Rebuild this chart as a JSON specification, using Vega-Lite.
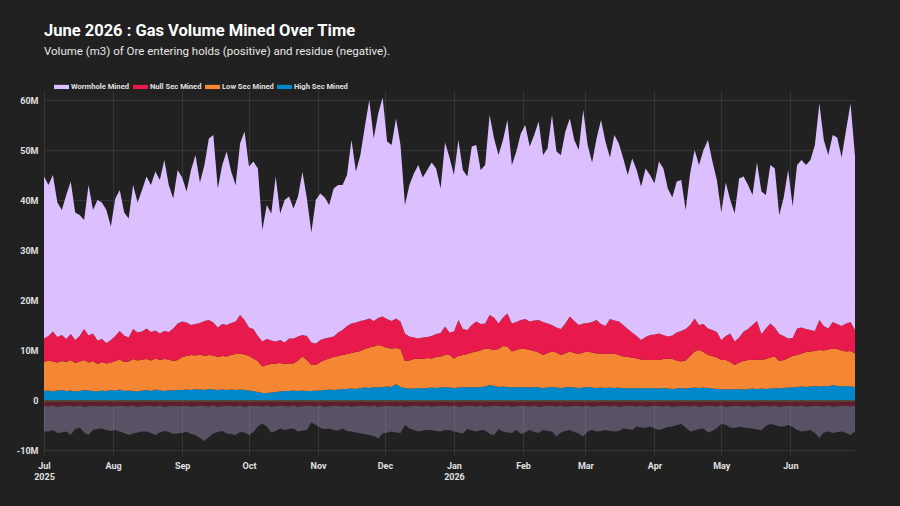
{
  "$schema": "https://vega.github.io/schema/vega-lite/v6.json",
  "width": 811,
  "height": 365,
  "autosize": "none",
  "padding": {"left": 44, "top": 90, "right": 45, "bottom": 51},
  "background": "#212121",
  "title": {
    "text": "June 2026 : Gas Volume Mined Over Time",
    "subtitle": "Volume (m3) of Ore entering holds (positive) and residue (negative).",
    "anchor": "start",
    "frame": "group",
    "color": "#ffffff",
    "subtitleColor": "#e6e6e6",
    "font": "Roboto",
    "fontSize": 16.5,
    "fontWeight": "bold",
    "subtitleFont": "Roboto",
    "subtitleFontSize": 11.5,
    "subtitlePadding": 6,
    "offset": 22
  },
  "data": {
    "values": [
      {"d":"2025-07-01","hs":1.8,"ls":5.8,"ns":4.7,"wh":32.4,"rhs":-0.1,"rls":-0.3,"rns":-0.8,"rwh":-5.1},
      {"d":"2025-07-03","hs":1.9,"ls":6.0,"ns":4.9,"wh":30.2,"rhs":-0.1,"rls":-0.3,"rns":-0.9,"rwh":-5.0},
      {"d":"2025-07-05","hs":1.7,"ls":6.0,"ns":6.0,"wh":31.3,"rhs":-0.1,"rls":-0.3,"rns":-0.7,"rwh":-4.9},
      {"d":"2025-07-07","hs":1.9,"ls":5.6,"ns":5.1,"wh":26.9,"rhs":-0.1,"rls":-0.3,"rns":-1.0,"rwh":-5.2},
      {"d":"2025-07-09","hs":2.0,"ls":5.8,"ns":5.2,"wh":25.0,"rhs":-0.1,"rls":-0.3,"rns":-0.85,"rwh":-5.25},
      {"d":"2025-07-11","hs":1.8,"ls":5.8,"ns":4.6,"wh":28.8,"rhs":-0.1,"rls":-0.3,"rns":-0.75,"rwh":-5.15},
      {"d":"2025-07-13","hs":1.9,"ls":6.1,"ns":5.2,"wh":30.5,"rhs":-0.1,"rls":-0.3,"rns":-0.8,"rwh":-5.8},
      {"d":"2025-07-15","hs":1.7,"ls":5.7,"ns":4.6,"wh":25.5,"rhs":-0.1,"rls":-0.3,"rns":-0.9,"rwh":-4.5},
      {"d":"2025-07-17","hs":1.8,"ls":5.9,"ns":5.1,"wh":24.2,"rhs":-0.1,"rls":-0.3,"rns":-0.7,"rwh":-4.4},
      {"d":"2025-07-19","hs":2.0,"ls":6.0,"ns":6.2,"wh":21.8,"rhs":-0.1,"rls":-0.3,"rns":-1.0,"rwh":-5.1},
      {"d":"2025-07-21","hs":1.9,"ls":5.6,"ns":5.4,"wh":30.1,"rhs":-0.1,"rls":-0.3,"rns":-0.85,"rwh":-5.75},
      {"d":"2025-07-23","hs":1.8,"ls":6.0,"ns":5.5,"wh":24.7,"rhs":-0.1,"rls":-0.3,"rns":-0.75,"rwh":-4.85},
      {"d":"2025-07-25","hs":1.7,"ls":5.5,"ns":4.7,"wh":28.1,"rhs":-0.1,"rls":-0.3,"rns":-0.8,"rwh":-4.6},
      {"d":"2025-07-27","hs":1.9,"ls":5.7,"ns":4.6,"wh":27.3,"rhs":-0.1,"rls":-0.3,"rns":-0.9,"rwh":-4.4},
      {"d":"2025-07-29","hs":1.8,"ls":5.5,"ns":4.1,"wh":26.6,"rhs":-0.1,"rls":-0.3,"rns":-0.7,"rwh":-4.9},
      {"d":"2025-07-31","hs":2.0,"ls":5.5,"ns":4.5,"wh":22.7,"rhs":-0.1,"rls":-0.3,"rns":-1.0,"rwh":-4.8},
      {"d":"2025-08-02","hs":1.9,"ls":5.9,"ns":5.0,"wh":27.5,"rhs":-0.1,"rls":-0.3,"rns":-0.85,"rwh":-4.75},
      {"d":"2025-08-04","hs":2.1,"ls":6.0,"ns":5.7,"wh":28.2,"rhs":-0.1,"rls":-0.3,"rns":-0.75,"rwh":-5.15},
      {"d":"2025-08-06","hs":1.8,"ls":5.8,"ns":5.3,"wh":24.6,"rhs":-0.1,"rls":-0.3,"rns":-0.8,"rwh":-5.4},
      {"d":"2025-08-08","hs":1.9,"ls":5.8,"ns":4.8,"wh":23.8,"rhs":-0.1,"rls":-0.3,"rns":-0.9,"rwh":-5.7},
      {"d":"2025-08-10","hs":1.8,"ls":6.4,"ns":6.0,"wh":28.8,"rhs":-0.1,"rls":-0.3,"rns":-0.7,"rwh":-5.6},
      {"d":"2025-08-12","hs":1.7,"ls":6.2,"ns":5.6,"wh":26.0,"rhs":-0.1,"rls":-0.3,"rns":-1.0,"rwh":-5.1},
      {"d":"2025-08-14","hs":1.9,"ls":6.2,"ns":5.6,"wh":28.3,"rhs":-0.1,"rls":-0.3,"rns":-0.85,"rwh":-5.05},
      {"d":"2025-08-16","hs":2.0,"ls":6.2,"ns":6.1,"wh":30.4,"rhs":-0.1,"rls":-0.3,"rns":-0.75,"rwh":-5.15},
      {"d":"2025-08-18","hs":1.8,"ls":6.1,"ns":5.7,"wh":29.4,"rhs":-0.1,"rls":-0.3,"rns":-0.8,"rwh":-5.4},
      {"d":"2025-08-20","hs":2.1,"ls":6.2,"ns":5.6,"wh":31.8,"rhs":-0.1,"rls":-0.3,"rns":-0.9,"rwh":-5.7},
      {"d":"2025-08-22","hs":1.9,"ls":6.1,"ns":5.3,"wh":30.7,"rhs":-0.1,"rls":-0.3,"rns":-0.7,"rwh":-5.4},
      {"d":"2025-08-24","hs":1.8,"ls":6.4,"ns":5.6,"wh":34.2,"rhs":-0.1,"rls":-0.3,"rns":-1.0,"rwh":-4.8},
      {"d":"2025-08-26","hs":2.0,"ls":6.1,"ns":5.5,"wh":29.4,"rhs":-0.1,"rls":-0.3,"rns":-0.85,"rwh":-5.15},
      {"d":"2025-08-28","hs":1.9,"ls":5.9,"ns":6.5,"wh":26.0,"rhs":-0.1,"rls":-0.3,"rns":-0.75,"rwh":-5.65},
      {"d":"2025-08-30","hs":2.0,"ls":6.0,"ns":7.3,"wh":30.7,"rhs":-0.1,"rls":-0.3,"rns":-0.8,"rwh":-5.5},
      {"d":"2025-09-01","hs":2.0,"ls":6.6,"ns":7.1,"wh":28.8,"rhs":-0.1,"rls":-0.3,"rns":-0.9,"rwh":-5.3},
      {"d":"2025-09-03","hs":2.1,"ls":6.7,"ns":6.7,"wh":26.2,"rhs":-0.1,"rls":-0.3,"rns":-0.7,"rwh":-5.2},
      {"d":"2025-09-05","hs":2.0,"ls":7.0,"ns":6.0,"wh":31.0,"rhs":-0.1,"rls":-0.3,"rns":-1.0,"rwh":-5.4},
      {"d":"2025-09-07","hs":2.2,"ls":6.7,"ns":6.3,"wh":33.8,"rhs":-0.1,"rls":-0.3,"rns":-0.85,"rwh":-5.75},
      {"d":"2025-09-09","hs":2.1,"ls":7.0,"ns":6.3,"wh":28.1,"rhs":-0.1,"rls":-0.3,"rns":-0.75,"rwh":-6.45},
      {"d":"2025-09-11","hs":2.0,"ls":6.8,"ns":7.0,"wh":31.2,"rhs":-0.1,"rls":-0.3,"rns":-0.8,"rwh":-7.0},
      {"d":"2025-09-13","hs":2.2,"ls":6.8,"ns":7.0,"wh":36.3,"rhs":-0.1,"rls":-0.3,"rns":-0.9,"rwh":-6.1},
      {"d":"2025-09-15","hs":2.1,"ls":6.8,"ns":6.6,"wh":37.5,"rhs":-0.1,"rls":-0.3,"rns":-0.7,"rwh":-5.6},
      {"d":"2025-09-17","hs":2.0,"ls":6.6,"ns":5.9,"wh":27.8,"rhs":-0.1,"rls":-0.3,"rns":-1.0,"rwh":-5.0},
      {"d":"2025-09-19","hs":2.1,"ls":6.7,"ns":6.4,"wh":31.8,"rhs":-0.1,"rls":-0.3,"rns":-0.85,"rwh":-4.95},
      {"d":"2025-09-21","hs":2.0,"ls":6.7,"ns":6.3,"wh":34.7,"rhs":-0.1,"rls":-0.3,"rns":-0.75,"rwh":-5.55},
      {"d":"2025-09-23","hs":2.1,"ls":6.9,"ns":6.4,"wh":30.3,"rhs":-0.1,"rls":-0.3,"rns":-0.8,"rwh":-5.6},
      {"d":"2025-09-25","hs":2.0,"ls":7.2,"ns":6.5,"wh":27.3,"rhs":-0.1,"rls":-0.3,"rns":-0.9,"rwh":-5.7},
      {"d":"2025-09-27","hs":2.1,"ls":7.2,"ns":7.7,"wh":34.3,"rhs":-0.1,"rls":-0.3,"rns":-0.7,"rwh":-5.3},
      {"d":"2025-09-29","hs":2.0,"ls":7.1,"ns":6.9,"wh":37.7,"rhs":-0.1,"rls":-0.3,"rns":-1.0,"rwh":-5.1},
      {"d":"2025-10-01","hs":1.9,"ls":6.9,"ns":5.7,"wh":32.2,"rhs":-0.1,"rls":-0.3,"rns":-0.85,"rwh":-5.75},
      {"d":"2025-10-03","hs":1.8,"ls":6.5,"ns":5.9,"wh":33.5,"rhs":-0.1,"rls":-0.3,"rns":-0.75,"rwh":-5.25},
      {"d":"2025-10-05","hs":1.6,"ls":6.2,"ns":5.0,"wh":33.5,"rhs":-0.1,"rls":-0.3,"rns":-0.8,"rwh":-4.1},
      {"d":"2025-10-07","hs":1.4,"ls":5.3,"ns":5.0,"wh":22.3,"rhs":-0.1,"rls":-0.3,"rns":-0.9,"rwh":-3.4},
      {"d":"2025-10-09","hs":1.4,"ls":5.6,"ns":5.2,"wh":26.8,"rhs":-0.1,"rls":-0.3,"rns":-0.7,"rwh":-4.2},
      {"d":"2025-10-11","hs":1.5,"ls":5.7,"ns":4.7,"wh":25.4,"rhs":-0.1,"rls":-0.3,"rns":-1.0,"rwh":-5.1},
      {"d":"2025-10-13","hs":1.6,"ls":5.7,"ns":4.4,"wh":33.0,"rhs":-0.1,"rls":-0.3,"rns":-0.85,"rwh":-4.95},
      {"d":"2025-10-15","hs":1.7,"ls":5.7,"ns":4.6,"wh":25.3,"rhs":-0.1,"rls":-0.3,"rns":-0.75,"rwh":-4.55},
      {"d":"2025-10-17","hs":1.8,"ls":5.4,"ns":4.3,"wh":28.5,"rhs":-0.1,"rls":-0.3,"rns":-0.8,"rwh":-4.8},
      {"d":"2025-10-19","hs":1.8,"ls":5.5,"ns":5.0,"wh":28.4,"rhs":-0.1,"rls":-0.3,"rns":-0.9,"rwh":-4.5},
      {"d":"2025-10-21","hs":1.9,"ls":5.4,"ns":5.0,"wh":26.0,"rhs":-0.1,"rls":-0.3,"rns":-0.7,"rwh":-4.6},
      {"d":"2025-10-23","hs":1.8,"ls":6.1,"ns":4.8,"wh":28.0,"rhs":-0.1,"rls":-0.3,"rns":-1.0,"rwh":-4.9},
      {"d":"2025-10-25","hs":1.9,"ls":6.8,"ns":4.3,"wh":32.6,"rhs":-0.1,"rls":-0.3,"rns":-0.85,"rwh":-4.85},
      {"d":"2025-10-27","hs":1.8,"ls":6.2,"ns":4.8,"wh":27.5,"rhs":-0.1,"rls":-0.3,"rns":-0.75,"rwh":-4.85},
      {"d":"2025-10-29","hs":1.8,"ls":5.2,"ns":4.5,"wh":22.0,"rhs":-0.1,"rls":-0.3,"rns":-0.8,"rwh":-3.3},
      {"d":"2025-10-31","hs":1.9,"ls":5.1,"ns":4.3,"wh":28.7,"rhs":-0.1,"rls":-0.3,"rns":-0.9,"rwh":-3.7},
      {"d":"2025-11-02","hs":1.9,"ls":5.7,"ns":4.4,"wh":29.3,"rhs":-0.1,"rls":-0.3,"rns":-0.7,"rwh":-4.5},
      {"d":"2025-11-04","hs":2.0,"ls":6.0,"ns":4.3,"wh":28.2,"rhs":-0.1,"rls":-0.3,"rns":-1.0,"rwh":-4.4},
      {"d":"2025-11-06","hs":2.1,"ls":6.2,"ns":4.2,"wh":26.5,"rhs":-0.1,"rls":-0.3,"rns":-0.85,"rwh":-4.45},
      {"d":"2025-11-08","hs":2.0,"ls":6.6,"ns":4.1,"wh":29.6,"rhs":-0.1,"rls":-0.3,"rns":-0.75,"rwh":-4.85},
      {"d":"2025-11-10","hs":2.1,"ls":6.7,"ns":4.7,"wh":29.5,"rhs":-0.1,"rls":-0.3,"rns":-0.8,"rwh":-4.9},
      {"d":"2025-11-12","hs":2.2,"ls":6.8,"ns":5.0,"wh":29.0,"rhs":-0.1,"rls":-0.3,"rns":-0.9,"rwh":-4.4},
      {"d":"2025-11-14","hs":2.2,"ls":7.0,"ns":5.6,"wh":30.2,"rhs":-0.1,"rls":-0.3,"rns":-0.7,"rwh":-5.1},
      {"d":"2025-11-16","hs":2.3,"ls":7.1,"ns":5.9,"wh":36.7,"rhs":-0.1,"rls":-0.3,"rns":-1.0,"rwh":-4.9},
      {"d":"2025-11-18","hs":2.2,"ls":7.4,"ns":5.9,"wh":30.2,"rhs":-0.1,"rls":-0.3,"rns":-0.85,"rwh":-5.25},
      {"d":"2025-11-20","hs":2.4,"ls":7.4,"ns":6.0,"wh":33.2,"rhs":-0.1,"rls":-0.3,"rns":-0.75,"rwh":-5.55},
      {"d":"2025-11-22","hs":2.5,"ls":7.7,"ns":5.8,"wh":38.7,"rhs":-0.1,"rls":-0.3,"rns":-0.8,"rwh":-5.6},
      {"d":"2025-11-24","hs":2.4,"ls":8.1,"ns":5.8,"wh":43.7,"rhs":-0.1,"rls":-0.3,"rns":-0.9,"rwh":-5.7},
      {"d":"2025-11-26","hs":2.6,"ls":8.1,"ns":5.1,"wh":36.5,"rhs":-0.1,"rls":-0.3,"rns":-0.7,"rwh":-6.1},
      {"d":"2025-11-28","hs":2.5,"ls":8.5,"ns":5.4,"wh":40.9,"rhs":-0.1,"rls":-0.3,"rns":-1.0,"rwh":-6.3},
      {"d":"2025-11-30","hs":2.6,"ls":8.2,"ns":5.9,"wh":43.8,"rhs":-0.1,"rls":-0.3,"rns":-0.85,"rwh":-5.45},
      {"d":"2025-12-02","hs":2.7,"ls":7.7,"ns":5.8,"wh":35.5,"rhs":-0.1,"rls":-0.3,"rns":-0.75,"rwh":-5.35},
      {"d":"2025-12-04","hs":2.6,"ls":7.7,"ns":5.5,"wh":35.2,"rhs":-0.1,"rls":-0.3,"rns":-0.8,"rwh":-5.1},
      {"d":"2025-12-06","hs":3.2,"ls":7.2,"ns":5.9,"wh":40.0,"rhs":-0.1,"rls":-0.3,"rns":-0.9,"rwh":-5.2},
      {"d":"2025-12-08","hs":2.6,"ls":7.6,"ns":5.5,"wh":35.3,"rhs":-0.1,"rls":-0.3,"rns":-0.7,"rwh":-5.5},
      {"d":"2025-12-10","hs":2.4,"ls":5.4,"ns":5.5,"wh":25.7,"rhs":-0.1,"rls":-0.3,"rns":-1.0,"rwh":-3.6},
      {"d":"2025-12-12","hs":2.3,"ls":5.6,"ns":4.8,"wh":30.3,"rhs":-0.1,"rls":-0.3,"rns":-0.85,"rwh":-4.45},
      {"d":"2025-12-14","hs":2.3,"ls":5.9,"ns":4.3,"wh":32.8,"rhs":-0.1,"rls":-0.3,"rns":-0.75,"rwh":-4.85},
      {"d":"2025-12-16","hs":2.4,"ls":5.9,"ns":4.0,"wh":34.7,"rhs":-0.1,"rls":-0.3,"rns":-0.8,"rwh":-5.1},
      {"d":"2025-12-18","hs":2.3,"ls":5.9,"ns":4.3,"wh":32.0,"rhs":-0.1,"rls":-0.3,"rns":-0.9,"rwh":-4.8},
      {"d":"2025-12-20","hs":2.4,"ls":6.0,"ns":4.2,"wh":33.4,"rhs":-0.1,"rls":-0.3,"rns":-0.7,"rwh":-4.9},
      {"d":"2025-12-22","hs":2.5,"ls":5.8,"ns":4.5,"wh":34.7,"rhs":-0.1,"rls":-0.3,"rns":-1.0,"rwh":-4.6},
      {"d":"2025-12-24","hs":2.4,"ls":6.2,"ns":4.6,"wh":33.1,"rhs":-0.1,"rls":-0.3,"rns":-0.85,"rwh":-4.95},
      {"d":"2025-12-26","hs":2.5,"ls":6.2,"ns":4.7,"wh":28.9,"rhs":-0.1,"rls":-0.3,"rns":-0.75,"rwh":-5.15},
      {"d":"2025-12-28","hs":2.6,"ls":6.4,"ns":5.7,"wh":36.8,"rhs":-0.1,"rls":-0.3,"rns":-0.8,"rwh":-4.8},
      {"d":"2025-12-30","hs":2.5,"ls":6.5,"ns":4.5,"wh":35.0,"rhs":-0.1,"rls":-0.3,"rns":-0.9,"rwh":-4.7},
      {"d":"2026-01-01","hs":2.4,"ls":5.9,"ns":5.4,"wh":31.3,"rhs":-0.1,"rls":-0.3,"rns":-0.7,"rwh":-5.2},
      {"d":"2026-01-03","hs":2.5,"ls":6.3,"ns":7.2,"wh":36.0,"rhs":-0.1,"rls":-0.3,"rns":-1.0,"rwh":-5.1},
      {"d":"2026-01-05","hs":2.6,"ls":6.4,"ns":5.2,"wh":31.8,"rhs":-0.1,"rls":-0.3,"rns":-0.85,"rwh":-5.45},
      {"d":"2026-01-07","hs":2.5,"ls":6.7,"ns":4.8,"wh":30.7,"rhs":-0.1,"rls":-0.3,"rns":-0.75,"rwh":-4.65},
      {"d":"2026-01-09","hs":2.6,"ls":6.9,"ns":5.5,"wh":35.7,"rhs":-0.1,"rls":-0.3,"rns":-0.8,"rwh":-4.9},
      {"d":"2026-01-11","hs":2.5,"ls":7.2,"ns":6.0,"wh":35.3,"rhs":-0.1,"rls":-0.3,"rns":-0.9,"rwh":-5.0},
      {"d":"2026-01-13","hs":2.6,"ls":7.3,"ns":5.3,"wh":30.8,"rhs":-0.1,"rls":-0.3,"rns":-0.7,"rwh":-4.9},
      {"d":"2026-01-15","hs":2.7,"ls":7.6,"ns":5.0,"wh":31.7,"rhs":-0.1,"rls":-0.3,"rns":-1.0,"rwh":-4.7},
      {"d":"2026-01-17","hs":3.0,"ls":7.2,"ns":6.8,"wh":40.0,"rhs":-0.1,"rls":-0.3,"rns":-0.85,"rwh":-5.55},
      {"d":"2026-01-19","hs":2.8,"ls":7.2,"ns":6.5,"wh":35.8,"rhs":-0.1,"rls":-0.3,"rns":-0.75,"rwh":-5.85},
      {"d":"2026-01-21","hs":2.6,"ls":7.6,"ns":5.1,"wh":33.7,"rhs":-0.1,"rls":-0.3,"rns":-0.8,"rwh":-4.6},
      {"d":"2026-01-23","hs":2.7,"ls":8.1,"ns":5.7,"wh":35.5,"rhs":-0.1,"rls":-0.3,"rns":-0.9,"rwh":-5.0},
      {"d":"2026-01-25","hs":2.6,"ls":8.1,"ns":6.6,"wh":38.7,"rhs":-0.1,"rls":-0.3,"rns":-0.7,"rwh":-5.4},
      {"d":"2026-01-27","hs":2.5,"ls":7.2,"ns":5.6,"wh":31.7,"rhs":-0.1,"rls":-0.3,"rns":-1.0,"rwh":-5.2},
      {"d":"2026-01-29","hs":2.6,"ls":7.4,"ns":5.6,"wh":34.1,"rhs":-0.1,"rls":-0.3,"rns":-0.85,"rwh":-4.75},
      {"d":"2026-01-31","hs":2.5,"ls":7.8,"ns":5.7,"wh":37.3,"rhs":-0.1,"rls":-0.3,"rns":-0.75,"rwh":-5.65},
      {"d":"2026-02-02","hs":2.6,"ls":7.6,"ns":6.0,"wh":38.8,"rhs":-0.1,"rls":-0.3,"rns":-0.8,"rwh":-5.3},
      {"d":"2026-02-04","hs":2.5,"ls":7.5,"ns":5.7,"wh":35.0,"rhs":-0.1,"rls":-0.3,"rns":-0.9,"rwh":-4.7},
      {"d":"2026-02-06","hs":2.6,"ls":7.2,"ns":6.1,"wh":37.1,"rhs":-0.1,"rls":-0.3,"rns":-0.7,"rwh":-5.3},
      {"d":"2026-02-08","hs":2.5,"ls":7.0,"ns":6.5,"wh":39.7,"rhs":-0.1,"rls":-0.3,"rns":-1.0,"rwh":-5.2},
      {"d":"2026-02-10","hs":2.4,"ls":6.6,"ns":6.6,"wh":33.4,"rhs":-0.1,"rls":-0.3,"rns":-0.85,"rwh":-4.75},
      {"d":"2026-02-12","hs":2.5,"ls":6.9,"ns":5.9,"wh":35.0,"rhs":-0.1,"rls":-0.3,"rns":-0.75,"rwh":-5.05},
      {"d":"2026-02-14","hs":2.6,"ls":7.1,"ns":5.3,"wh":42.0,"rhs":-0.1,"rls":-0.3,"rns":-0.8,"rwh":-5.1},
      {"d":"2026-02-16","hs":2.5,"ls":7.0,"ns":5.0,"wh":35.2,"rhs":-0.1,"rls":-0.3,"rns":-0.9,"rwh":-6.0},
      {"d":"2026-02-18","hs":2.4,"ls":6.6,"ns":5.2,"wh":34.8,"rhs":-0.1,"rls":-0.3,"rns":-0.7,"rwh":-5.4},
      {"d":"2026-02-20","hs":2.5,"ls":6.8,"ns":6.0,"wh":38.4,"rhs":-0.1,"rls":-0.3,"rns":-1.0,"rwh":-4.8},
      {"d":"2026-02-22","hs":2.6,"ls":7.1,"ns":7.0,"wh":39.6,"rhs":-0.1,"rls":-0.3,"rns":-0.85,"rwh":-4.75},
      {"d":"2026-02-24","hs":2.5,"ls":6.9,"ns":6.4,"wh":36.2,"rhs":-0.1,"rls":-0.3,"rns":-0.75,"rwh":-5.25},
      {"d":"2026-02-26","hs":2.4,"ls":6.8,"ns":5.8,"wh":35.0,"rhs":-0.1,"rls":-0.3,"rns":-0.8,"rwh":-5.5},
      {"d":"2026-02-28","hs":2.5,"ls":7.0,"ns":5.8,"wh":42.7,"rhs":-0.1,"rls":-0.3,"rns":-0.9,"rwh":-6.0},
      {"d":"2026-03-02","hs":2.6,"ls":7.1,"ns":5.7,"wh":35.6,"rhs":-0.1,"rls":-0.3,"rns":-0.7,"rwh":-5.2},
      {"d":"2026-03-04","hs":2.5,"ls":7.0,"ns":6.1,"wh":31.9,"rhs":-0.1,"rls":-0.3,"rns":-1.0,"rwh":-4.6},
      {"d":"2026-03-06","hs":2.4,"ls":6.9,"ns":6.7,"wh":36.3,"rhs":-0.1,"rls":-0.3,"rns":-0.85,"rwh":-5.05},
      {"d":"2026-03-08","hs":2.5,"ls":6.8,"ns":5.9,"wh":40.8,"rhs":-0.1,"rls":-0.3,"rns":-0.75,"rwh":-5.05},
      {"d":"2026-03-10","hs":2.4,"ls":6.8,"ns":5.6,"wh":36.9,"rhs":-0.1,"rls":-0.3,"rns":-0.8,"rwh":-4.8},
      {"d":"2026-03-12","hs":2.5,"ls":6.8,"ns":6.9,"wh":32.3,"rhs":-0.1,"rls":-0.3,"rns":-0.9,"rwh":-4.9},
      {"d":"2026-03-14","hs":2.4,"ls":6.9,"ns":6.6,"wh":37.1,"rhs":-0.1,"rls":-0.3,"rns":-0.7,"rwh":-5.2},
      {"d":"2026-03-16","hs":2.5,"ls":6.5,"ns":6.7,"wh":35.6,"rhs":-0.1,"rls":-0.3,"rns":-1.0,"rwh":-4.8},
      {"d":"2026-03-18","hs":2.3,"ls":6.4,"ns":6.3,"wh":33.3,"rhs":-0.1,"rls":-0.3,"rns":-0.85,"rwh":-4.45},
      {"d":"2026-03-20","hs":2.4,"ls":6.2,"ns":5.6,"wh":30.8,"rhs":-0.1,"rls":-0.3,"rns":-0.75,"rwh":-4.65},
      {"d":"2026-03-22","hs":2.3,"ls":6.2,"ns":5.0,"wh":34.8,"rhs":-0.1,"rls":-0.3,"rns":-0.8,"rwh":-4.8},
      {"d":"2026-03-24","hs":2.4,"ls":5.9,"ns":4.5,"wh":33.2,"rhs":-0.1,"rls":-0.3,"rns":-0.9,"rwh":-4.0},
      {"d":"2026-03-26","hs":2.3,"ls":5.8,"ns":3.9,"wh":30.7,"rhs":-0.1,"rls":-0.3,"rns":-0.7,"rwh":-4.4},
      {"d":"2026-03-28","hs":2.4,"ls":5.6,"ns":4.6,"wh":33.7,"rhs":-0.1,"rls":-0.3,"rns":-1.0,"rwh":-4.2},
      {"d":"2026-03-30","hs":2.3,"ls":5.7,"ns":5.0,"wh":32.0,"rhs":-0.1,"rls":-0.3,"rns":-0.85,"rwh":-4.05},
      {"d":"2026-04-01","hs":2.4,"ls":5.6,"ns":5.1,"wh":30.2,"rhs":-0.1,"rls":-0.3,"rns":-0.75,"rwh":-4.55},
      {"d":"2026-04-03","hs":2.3,"ls":5.7,"ns":5.3,"wh":34.4,"rhs":-0.1,"rls":-0.3,"rns":-0.8,"rwh":-4.8},
      {"d":"2026-04-05","hs":2.4,"ls":5.8,"ns":4.8,"wh":33.3,"rhs":-0.1,"rls":-0.3,"rns":-0.9,"rwh":-4.4},
      {"d":"2026-04-07","hs":2.3,"ls":6.0,"ns":4.4,"wh":29.6,"rhs":-0.1,"rls":-0.3,"rns":-0.7,"rwh":-4.3},
      {"d":"2026-04-09","hs":2.2,"ls":6.0,"ns":4.7,"wh":27.6,"rhs":-0.1,"rls":-0.3,"rns":-1.0,"rwh":-3.9},
      {"d":"2026-04-11","hs":2.3,"ls":5.6,"ns":5.6,"wh":30.2,"rhs":-0.1,"rls":-0.3,"rns":-0.85,"rwh":-3.75},
      {"d":"2026-04-13","hs":2.4,"ls":5.3,"ns":6.1,"wh":30.2,"rhs":-0.1,"rls":-0.3,"rns":-0.75,"rwh":-3.65},
      {"d":"2026-04-15","hs":2.3,"ls":5.6,"ns":6.3,"wh":23.8,"rhs":-0.1,"rls":-0.3,"rns":-0.8,"rwh":-4.3},
      {"d":"2026-04-17","hs":2.4,"ls":6.4,"ns":6.2,"wh":30.3,"rhs":-0.1,"rls":-0.3,"rns":-0.9,"rwh":-5.0},
      {"d":"2026-04-19","hs":2.5,"ls":7.2,"ns":6.6,"wh":33.7,"rhs":-0.1,"rls":-0.3,"rns":-0.7,"rwh":-5.0},
      {"d":"2026-04-21","hs":2.4,"ls":7.6,"ns":5.0,"wh":32.0,"rhs":-0.1,"rls":-0.3,"rns":-1.0,"rwh":-4.4},
      {"d":"2026-04-23","hs":2.5,"ls":7.1,"ns":5.6,"wh":34.8,"rhs":-0.1,"rls":-0.3,"rns":-0.85,"rwh":-4.45},
      {"d":"2026-04-25","hs":2.4,"ls":6.6,"ns":5.3,"wh":37.7,"rhs":-0.1,"rls":-0.3,"rns":-0.75,"rwh":-5.35},
      {"d":"2026-04-27","hs":2.3,"ls":6.5,"ns":5.2,"wh":33.7,"rhs":-0.1,"rls":-0.3,"rns":-0.8,"rwh":-5.0},
      {"d":"2026-04-29","hs":2.2,"ls":6.3,"ns":5.1,"wh":30.4,"rhs":-0.1,"rls":-0.3,"rns":-0.9,"rwh":-4.3},
      {"d":"2026-05-01","hs":2.2,"ls":5.8,"ns":4.0,"wh":25.5,"rhs":-0.1,"rls":-0.3,"rns":-0.7,"rwh":-3.7},
      {"d":"2026-05-03","hs":2.1,"ls":5.9,"ns":4.8,"wh":30.7,"rhs":-0.1,"rls":-0.3,"rns":-1.0,"rwh":-3.6},
      {"d":"2026-05-05","hs":2.2,"ls":5.4,"ns":5.7,"wh":26.7,"rhs":-0.1,"rls":-0.3,"rns":-0.85,"rwh":-4.25},
      {"d":"2026-05-07","hs":2.1,"ls":4.9,"ns":4.7,"wh":25.6,"rhs":-0.1,"rls":-0.3,"rns":-0.75,"rwh":-4.45},
      {"d":"2026-05-09","hs":2.2,"ls":5.3,"ns":5.0,"wh":31.8,"rhs":-0.1,"rls":-0.3,"rns":-0.8,"rwh":-4.1},
      {"d":"2026-05-11","hs":2.1,"ls":5.7,"ns":5.9,"wh":31.0,"rhs":-0.1,"rls":-0.3,"rns":-0.9,"rwh":-4.2},
      {"d":"2026-05-13","hs":2.2,"ls":5.8,"ns":6.2,"wh":28.8,"rhs":-0.1,"rls":-0.3,"rns":-0.7,"rwh":-4.5},
      {"d":"2026-05-15","hs":2.3,"ls":5.7,"ns":7.0,"wh":26.0,"rhs":-0.1,"rls":-0.3,"rns":-1.0,"rwh":-4.3},
      {"d":"2026-05-17","hs":2.2,"ls":5.9,"ns":7.7,"wh":31.7,"rhs":-0.1,"rls":-0.3,"rns":-0.85,"rwh":-4.65},
      {"d":"2026-05-19","hs":2.3,"ls":5.7,"ns":5.2,"wh":28.5,"rhs":-0.1,"rls":-0.3,"rns":-0.75,"rwh":-4.85},
      {"d":"2026-05-21","hs":2.2,"ls":6.0,"ns":6.1,"wh":26.7,"rhs":-0.1,"rls":-0.3,"rns":-0.8,"rwh":-4.0},
      {"d":"2026-05-23","hs":2.3,"ls":6.2,"ns":6.8,"wh":31.7,"rhs":-0.1,"rls":-0.3,"rns":-0.9,"rwh":-3.5},
      {"d":"2026-05-25","hs":2.4,"ls":6.3,"ns":5.8,"wh":31.8,"rhs":-0.1,"rls":-0.3,"rns":-0.7,"rwh":-3.9},
      {"d":"2026-05-27","hs":2.3,"ls":5.5,"ns":5.4,"wh":23.8,"rhs":-0.1,"rls":-0.3,"rns":-1.0,"rwh":-3.9},
      {"d":"2026-05-29","hs":2.4,"ls":5.6,"ns":4.8,"wh":27.7,"rhs":-0.1,"rls":-0.3,"rns":-0.85,"rwh":-4.05},
      {"d":"2026-05-31","hs":2.5,"ls":5.9,"ns":3.9,"wh":33.7,"rhs":-0.1,"rls":-0.3,"rns":-0.75,"rwh":-3.85},
      {"d":"2026-06-02","hs":2.5,"ls":6.3,"ns":3.6,"wh":26.3,"rhs":-0.1,"rls":-0.3,"rns":-0.8,"rwh":-4.2},
      {"d":"2026-06-04","hs":2.6,"ls":6.4,"ns":5.3,"wh":32.7,"rhs":-0.1,"rls":-0.3,"rns":-0.9,"rwh":-4.7},
      {"d":"2026-06-06","hs":2.7,"ls":6.6,"ns":5.2,"wh":33.5,"rhs":-0.1,"rls":-0.3,"rns":-0.7,"rwh":-5.2},
      {"d":"2026-06-08","hs":2.6,"ls":7.0,"ns":4.6,"wh":32.8,"rhs":-0.1,"rls":-0.3,"rns":-1.0,"rwh":-4.8},
      {"d":"2026-06-10","hs":2.7,"ls":7.0,"ns":4.3,"wh":34.0,"rhs":-0.1,"rls":-0.3,"rns":-0.85,"rwh":-4.75},
      {"d":"2026-06-12","hs":2.8,"ls":7.0,"ns":4.0,"wh":37.2,"rhs":-0.1,"rls":-0.3,"rns":-0.75,"rwh":-5.45},
      {"d":"2026-06-14","hs":2.7,"ls":7.3,"ns":6.0,"wh":43.3,"rhs":-0.1,"rls":-0.3,"rns":-0.8,"rwh":-6.4},
      {"d":"2026-06-16","hs":2.8,"ls":7.1,"ns":4.9,"wh":37.2,"rhs":-0.1,"rls":-0.3,"rns":-0.9,"rwh":-5.2},
      {"d":"2026-06-18","hs":2.7,"ls":7.4,"ns":4.2,"wh":34.7,"rhs":-0.1,"rls":-0.3,"rns":-0.7,"rwh":-5.2},
      {"d":"2026-06-20","hs":3.0,"ls":7.3,"ns":5.3,"wh":37.4,"rhs":-0.1,"rls":-0.3,"rns":-1.0,"rwh":-5.2},
      {"d":"2026-06-22","hs":2.8,"ls":7.4,"ns":5.0,"wh":37.3,"rhs":-0.1,"rls":-0.3,"rns":-0.85,"rwh":-5.15},
      {"d":"2026-06-24","hs":2.7,"ls":7.2,"ns":4.9,"wh":33.7,"rhs":-0.1,"rls":-0.3,"rns":-0.75,"rwh":-5.15},
      {"d":"2026-06-26","hs":2.8,"ls":6.9,"ns":5.6,"wh":38.7,"rhs":-0.1,"rls":-0.3,"rns":-0.8,"rwh":-5.4},
      {"d":"2026-06-28","hs":2.7,"ls":7.1,"ns":5.8,"wh":43.7,"rhs":-0.1,"rls":-0.3,"rns":-0.9,"rwh":-5.7},
      {"d":"2026-06-30","hs":2.6,"ls":6.7,"ns":4.7,"wh":34.7,"rhs":-0.1,"rls":-0.3,"rns":-0.7,"rwh":-5.2}
    ]
  },
  "transform": [
    {"fold": ["hs", "ls", "ns", "wh", "rhs", "rls", "rns", "rwh"], "as": ["k", "v"]}
  ],
  "mark": {"type": "area", "interpolate": "linear"},
  "encoding": {
    "x": {
      "field": "d",
      "type": "temporal",
      "title": null,
      "scale": {
        "type": "utc",
        "domain": [
          {"year": 2025, "month": 7, "date": 1, "utc": true},
          {"year": 2026, "month": 6, "date": 30, "utc": true}
        ]
      },
      "axis": {
        "tickCount": {"interval": "month", "step": 1},
        "labelExpr": "utcmonth(datum.value) == 0 || (utcmonth(datum.value) == 6 && utcyear(datum.value) == 2025) ? [utcFormat(datum.value, '%b'), utcFormat(datum.value, '%Y')] : utcFormat(datum.value, '%b')",
        "labelPadding": 6,
        "labelFlush": false,
        "labelOverlap": false
      }
    },
    "y": {
      "field": "v",
      "type": "quantitative",
      "stack": "zero",
      "title": null,
      "scale": {"domain": [-11, 62], "nice": false, "zero": false},
      "axis": {
        "values": [-10, 0, 10, 20, 30, 40, 50, 60],
        "labelExpr": "datum.value == 0 ? '0' : datum.value + 'M'",
        "labelPadding": 6
      }
    },
    "color": {
      "field": "k",
      "type": "nominal",
      "scale": {
        "domain": ["wh", "ns", "ls", "hs", "rhs", "rls", "rns", "rwh"],
        "range": ["#dcbfff", "#e8194b", "#f58634", "#0087cc", "rgba(0,135,204,0.3)", "rgba(245,134,52,0.3)", "rgba(232,25,75,0.3)", "rgba(220,191,255,0.3)"]
      },
      "legend": {
        "orient": "none",
        "legendX": 10,
        "legendY": -11,
        "direction": "horizontal",
        "title": null,
        "values": ["wh", "ns", "ls", "hs"],
        "labelExpr": "{'wh': 'Wormhole Mined', 'ns': 'Null Sec Mined', 'ls': 'Low Sec Mined', 'hs': 'High Sec Mined'}[datum.label]",
        "symbolType": "M-1,-0.28H1V0.28H-1Z",
        "symbolSize": 225,
        "symbolStrokeWidth": 0,
        "labelFontSize": 7.6,
        "labelColor": "#e0e0e0",
        "labelFont": "Roboto",
        "labelFontWeight": "bold",
        "labelOffset": 2,
        "columnPadding": 3
      }
    },
    "order": {"field": "k", "sort": "ascending"}
  },
  "config": {
    "view": {"stroke": null},
    "axis": {
      "labelColor": "#e0e0e0",
      "labelFont": "Roboto",
      "labelFontWeight": "bold",
      "labelFontSize": 9,
      "gridColor": "#353535",
      "gridWidth": 1,
      "domain": false,
      "ticks": false
    }
  }
}
